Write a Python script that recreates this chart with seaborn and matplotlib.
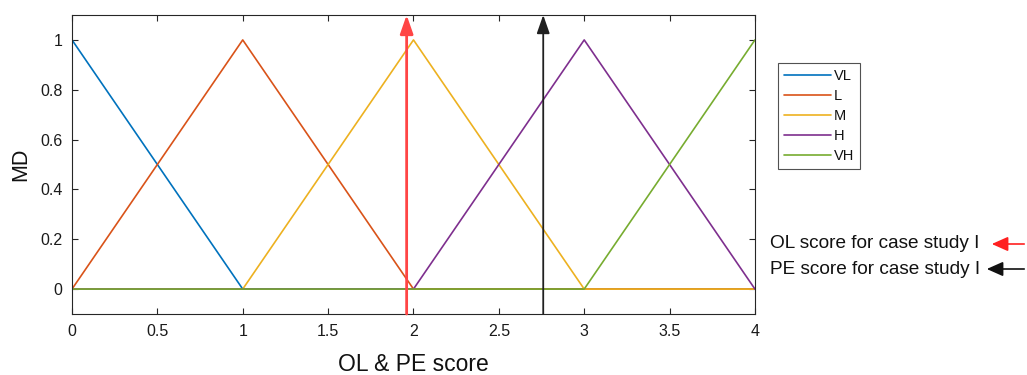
import pandas as pd
import matplotlib.pyplot as plt
import seaborn as sns

sns.set_theme(style='white')
plt.rcParams['font.family'] = ['Arial', 'Liberation Sans', 'DejaVu Sans']

labels = ['VL', 'L', 'M', 'H', 'VH']
x_pts = [0, 1, 2, 3, 4]
vl = [1, 0, 0, 0, 0]
l = [0, 1, 0, 0, 0]
m = [0, 0, 1, 0, 0]
h = [0, 0, 0, 1, 0]
vh = [0, 0, 0, 0, 1]
colors = ['#0072BD', '#D95319', '#EDB120', '#7E2F8E', '#77AC30']
ol_score = 1.96
pe_score = 2.76

rows = []
for name, ys in zip(labels, [vl, l, m, h, vh]):
    for xv, yv in zip(x_pts, ys):
        rows.append({'score': xv, 'MD': yv, 'set': name})
df = pd.DataFrame(rows)

fig = plt.figure(figsize=(10.27, 3.75), dpi=100)
ax = fig.add_axes([0.0701, 0.1627, 0.665, 0.7973])
sns.lineplot(data=df, x='score', y='MD', hue='set', hue_order=labels,
             palette=colors, linewidth=1.2, ax=ax)

ax.set_xlim(0, 4)
ax.set_ylim(-0.1, 1.1)
ax.set_xticks([0, 0.5, 1, 1.5, 2, 2.5, 3, 3.5, 4])
ax.set_xticklabels(['0', '0.5', '1', '1.5', '2', '2.5', '3', '3.5', '4'])
ax.set_yticks([0, 0.2, 0.4, 0.6, 0.8, 1])
ax.set_yticklabels(['0', '0.2', '0.4', '0.6', '0.8', '1'])
ax.tick_params(direction='in', length=4, width=0.8, labelsize=11.5, colors='#262626',
               labelcolor='#1a1a1a', top=True, right=True, bottom=True, left=True, pad=7)
for s in ax.spines.values():
    s.set_color('#262626')
    s.set_linewidth(0.8)
ax.set_xlabel('OL & PE score', fontsize=16.5, labelpad=10, color='#111111')
ax.set_ylabel('MD', fontsize=15.5, labelpad=6, color='#111111')

# score markers
ax.annotate('', xy=(ol_score, 1.1), xytext=(ol_score, -0.1),
            arrowprops=dict(arrowstyle='-|>,head_length=0.8,head_width=0.28', color='#ff4545', lw=2.0,
                            mutation_scale=14, shrinkA=0, shrinkB=0), annotation_clip=False)
ax.annotate('', xy=(pe_score, 1.1), xytext=(pe_score, -0.1),
            arrowprops=dict(arrowstyle='-|>,head_length=0.8,head_width=0.28', color='#202020', lw=1.3,
                            mutation_scale=14, shrinkA=0, shrinkB=0), annotation_clip=False)

leg = ax.legend(loc='upper left', bbox_to_anchor=(1.034, 0.84), fontsize=10.5,
                frameon=True, fancybox=False, handlelength=3.2, handletextpad=0.2,
                borderpad=0.4, labelspacing=0.42, borderaxespad=0)
leg.get_frame().set_edgecolor('#262626')
leg.get_frame().set_linewidth(0.8)
for t in leg.get_texts():
    t.set_color('#111111')

fig.text(770 / 1027, 1 - 244 / 375, 'OL score for case study I', fontsize=13.7,
         va='center', ha='left', color='#111111')
fig.text(770 / 1027, 1 - 269 / 375, 'PE score for case study I', fontsize=13.7,
         va='center', ha='left', color='#111111')
fig.add_artist(plt.matplotlib.patches.FancyArrowPatch(
    (1027 / 1027, 1 - 244 / 375), (989 / 1027, 1 - 244 / 375), transform=fig.transFigure,
    arrowstyle='-|>,head_length=0.9,head_width=0.4', color='#ff2020', lw=1.2, mutation_scale=11))
fig.add_artist(plt.matplotlib.patches.FancyArrowPatch(
    (1027 / 1027, 1 - 269 / 375), (984 / 1027, 1 - 269 / 375), transform=fig.transFigure,
    arrowstyle='-|>,head_length=0.9,head_width=0.4', color='#111111', lw=1.2, mutation_scale=11))

fig.savefig('out.png', dpi=100)
